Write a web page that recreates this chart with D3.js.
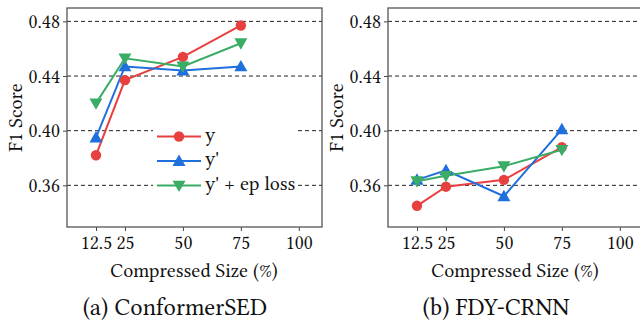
<!DOCTYPE html>
<html>
<head>
<meta charset="utf-8">
<script src="https://cdn.jsdelivr.net/npm/d3@7"></script>
<style>
  body { margin: 0; background: #fff; }
</style>
</head>
<body>
<div id="chart"></div>
<script>
// Data
const sizes = [12.5, 25, 50, 75];
const xTicks = [12.5, 25, 50, 75, 100];
const yTicks = [0.36, 0.40, 0.44, 0.48];

const confY = [0.382, 0.437, 0.454, 0.477];
const confYp = [0.395, 0.447, 0.444, 0.447];
const confEp = [0.420, 0.453, 0.447, 0.464];

const fdyY = [0.345, 0.359, 0.364, 0.388];
const fdyYp = [0.364, 0.371, 0.352, 0.401];
const fdyEp = [0.363, 0.367, 0.374, 0.386];

const seriesNames = ["y", "y'", "y' + ep loss"];
const colors = ["#e8403f", "#1f6fdc", "#3aac66"];
const shapes = ["circle", "up", "down"];

const panels = [
  { left: 67, caption: "(a) ConformerSED", data: [confY, confYp, confEp], legend: true },
  { left: 388, caption: "(b) FDY-CRNN", data: [fdyY, fdyYp, fdyEp], legend: false }
];

const width = 640;
const height = 324;
const plotW = 255;
const plotTop = 8;
const plotBottom = 227;
const serif = '"Libertinus Serif", "Linux Libertine O", "Liberation Serif", serif';

const svg = d3.select("#chart")
  .append("svg")
  .attr("width", width)
  .attr("height", height);

function marker(g, shape, x, y, color) {
  if (shape === "circle") {
    g.append("circle").attr("cx", x).attr("cy", y).attr("r", 5.2).attr("fill", color);
  } else {
    const s = 6.5;
    const pts = shape === "up"
      ? [[x, y - s], [x - s, y + s * 0.75], [x + s, y + s * 0.75]]
      : [[x, y + s], [x - s, y - s * 0.75], [x + s, y - s * 0.75]];
    g.append("polygon").attr("points", pts.map(p => p.join(",")).join(" ")).attr("fill", color);
  }
}

function label(g, size) {
  return g.append("text")
    .style("font-family", serif)
    .style("font-size", size + "px")
    .attr("fill", "#111");
}

panels.forEach(p => {
  const x = d3.scaleLinear().domain([0, 110]).range([p.left, p.left + plotW]);
  const y = d3.scaleLinear().domain([0.3295, 0.4898]).range([plotBottom, plotTop]);
  const g = svg.append("g");

  // grid
  g.selectAll(".grid").data(yTicks).enter().append("line")
    .attr("x1", p.left).attr("x2", p.left + plotW)
    .attr("y1", d => y(d)).attr("y2", d => y(d))
    .attr("stroke", "#222").attr("stroke-width", 1).attr("stroke-dasharray", "4,3");

  // axes
  const xAxis = g.append("g").attr("transform", `translate(0,${plotBottom})`)
    .call(d3.axisBottom(x).tickValues(xTicks).tickSize(4).tickPadding(4).tickFormat(d => d));
  const yAxis = g.append("g").attr("transform", `translate(${p.left},0)`)
    .call(d3.axisLeft(y).tickValues(yTicks).tickSize(4).tickPadding(3).tickFormat(d3.format(".2f")));
  [xAxis, yAxis].forEach(a => {
    a.select(".domain").remove();
    a.selectAll("line").attr("stroke", "#444");
    a.selectAll("text").attr("fill", "#111")
      .style("font-family", serif).style("font-size", "19.5px");
  });

  // frame
  g.append("rect")
    .attr("x", p.left).attr("y", plotTop)
    .attr("width", plotW).attr("height", plotBottom - plotTop)
    .attr("fill", "none").attr("stroke", "#555").attr("stroke-width", 1.3);

  // series
  const line = d3.line().x((d, i) => x(sizes[i])).y(d => y(d));
  p.data.forEach((vals, k) => {
    g.append("path").datum(vals).attr("d", line)
      .attr("fill", "none").attr("stroke", colors[k]).attr("stroke-width", 2);
  });
  p.data.forEach((vals, k) => {
    vals.forEach((v, i) => marker(g, shapes[k], x(sizes[i]), y(v), colors[k]));
  });

  // labels
  label(g, 20)
    .attr("transform", `translate(${p.left - 49},${(plotTop + plotBottom) / 2}) rotate(-90)`)
    .attr("text-anchor", "middle").attr("dominant-baseline", "middle")
    .text("F1 Score");
  label(g, 20)
    .attr("x", p.left + 127).attr("y", 273)
    .attr("text-anchor", "middle").attr("dominant-baseline", "middle")
    .text("Compressed Size (%)");
  label(g, 24.5)
    .attr("x", p.left + 108).attr("y", 310)
    .attr("text-anchor", "middle").attr("dominant-baseline", "middle")
    .text(p.caption);

  if (p.legend) {
    const lg = g.append("g");
    lg.append("rect").attr("x", 153).attr("y", 123).attr("width", 144).attr("height", 74).attr("fill", "#fff");
    seriesNames.forEach((name, k) => {
      const ly = 136.5 + k * 24.5;
      lg.append("line").attr("x1", 157).attr("x2", 201).attr("y1", ly).attr("y2", ly)
        .attr("stroke", colors[k]).attr("stroke-width", 2);
      marker(lg, shapes[k], 179, ly, colors[k]);
      label(lg, 20).attr("x", 205).attr("y", ly)
        .attr("dominant-baseline", "middle").text(name);
    });
  }
});
</script>
</body>
</html>
